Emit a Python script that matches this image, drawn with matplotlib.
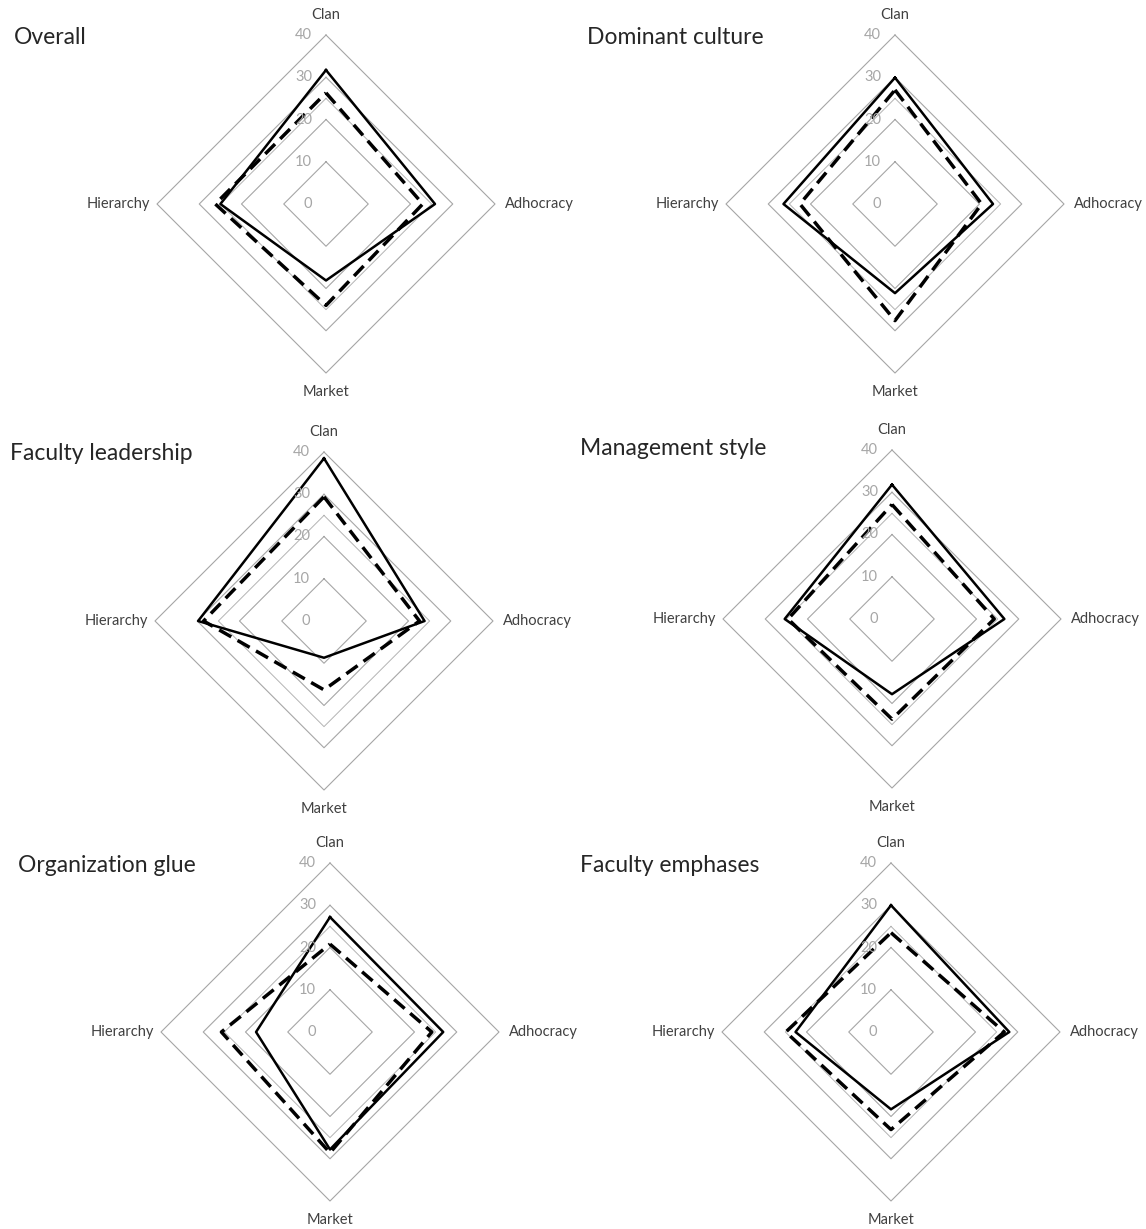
#! usr/bin/env python3

import numpy as np
import matplotlib
matplotlib.use("Agg")
import matplotlib.pyplot as plt

plt.rcParams['font.family'] = ['Lato', 'DejaVu Sans']

categories = ['Clan', 'Adhocracy', 'Market', 'Hierarchy']
rings = [10, 20, 30, 40]
tick_values = [0, 10, 20, 30, 40]
baseline = [25, 25, 25, 25]

# current profile (solid) and preferred profile (dashed)
current_overall = [31.7, 25.8, 18.1, 25.0]
preferred_overall = [26.3, 22.9, 24.0, 26.2]
current_dominant = [29.9, 23.2, 21.1, 26.4]
preferred_dominant = [27.0, 20.5, 27.6, 22.5]
current_leadership = [38.5, 23.8, 8.7, 29.8]
preferred_leadership = [29.4, 22.6, 16.3, 28.5]
current_management = [31.8, 26.6, 17.8, 25.4]
preferred_management = [27.1, 24.2, 23.7, 24.6]
current_glue = [27.2, 26.8, 27.8, 17.5]
preferred_glue = [20.8, 24.1, 28.6, 25.7]
current_emphases = [30.0, 28.0, 18.3, 22.6]
preferred_emphases = [23.5, 26.8, 23.1, 24.9]

panels = [
    ('Overall', current_overall, preferred_overall),
    ('Dominant culture', current_dominant, preferred_dominant),
    ('Faculty leadership', current_leadership, preferred_leadership),
    ('Management style', current_management, preferred_management),
    ('Organization glue', current_glue, preferred_glue),
    ('Faculty emphases', current_emphases, preferred_emphases),
]

W, H = 1146, 1229
fig = plt.figure(figsize=(W / 100, H / 100), dpi=100)

# panel centres and title anchors, in pixels from top-left
centres = [(326, 204), (895, 204), (324, 621), (892, 619), (330, 1032), (891, 1032)]
title_pos = [(14, 38), (587, 38), (10, 454), (580, 449), (18, 866), (580, 866)]
R = 169

angles = np.arange(len(categories)) * 2 * np.pi / len(categories)
closed = np.append(angles, angles[0])


def close(vals):
    return list(vals) + [vals[0]]


for (title, cur, pref), (cx, cy), (tx, ty) in zip(panels, centres, title_pos):
    ax = fig.add_axes([(cx - R) / W, (H - cy - R) / H, 2 * R / W, 2 * R / H],
                      projection='polar')
    ax.set_theta_zero_location('N')
    ax.set_theta_direction(-1)
    ax.set_ylim(0, 40)
    ax.grid(False)
    ax.set_xticks([])
    ax.set_yticks([])
    ax.spines['polar'].set_visible(False)
    ax.patch.set_visible(False)

    # diamond gridlines
    for r in rings:
        ax.plot(closed, close([r] * 4), color='#a6a6a6', lw=0.8, clip_on=False)

    ax.plot(closed, close(baseline), color='#b4b4b4', lw=0.7, clip_on=False)
    ax.plot(closed, close(pref), color='black', lw=2.5, dashes=(4, 2.1),
            clip_on=False)
    ax.plot(closed, close(cur), color='black', lw=1.8, clip_on=False)

    # value axis labels
    for v in tick_values:
        ax.annotate(str(v), xy=(0, v), xytext=(-14, 0),
                    textcoords='offset pixels', ha='right', va='center',
                    color='#a6a6a6', fontsize=10.5, annotation_clip=False)

    # category labels
    offsets = [(0, 20, 'center', 'center'), (10, 0, 'left', 'center'),
               (0, -19, 'center', 'center'), (-7, 0, 'right', 'center')]
    for a, cat, (dx, dy, ha, va) in zip(angles, categories, offsets):
        ax.annotate(cat, xy=(a, 40), xytext=(dx, dy),
                    textcoords='offset pixels', ha=ha, va=va,
                    color='#404040', fontsize=10.5, annotation_clip=False)

    fig.text(tx / W, 1 - ty / H, title, ha='left', va='center',
             fontsize=16.5, color='#262626')

fig.savefig("out.png", dpi=100)
